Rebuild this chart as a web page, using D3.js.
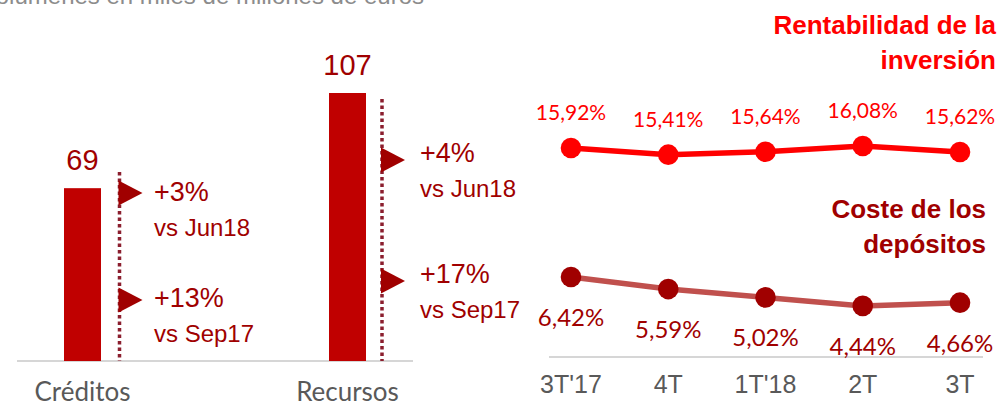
<!DOCTYPE html>
<html>
<head>
<meta charset="utf-8">
<script src="https://cdn.jsdelivr.net/npm/d3@7"></script>
<style>
  body { margin: 0; background: #fff; }
  svg { display: block; }
</style>
</head>
<body>
<svg id="chart" width="1001" height="408"></svg>
<script>
// data
var categories = ["Créditos", "Recursos"];
var volumes = [69, 107];
var vsJun = ["+3%", "+4%"];
var vsSep = ["+13%", "+17%"];
var vsJunLabel = "vs Jun18";
var vsSepLabel = "vs Sep17";

var quarters = ["3T'17", "4T", "1T'18", "2T", "3T"];
var rentabilidad = [15.92, 15.41, 15.64, 16.08, 15.62];
var coste = [6.42, 5.59, 5.02, 4.44, 4.66];

// layout for the growth notes next to each bar
var noteTop = [172, 99];
var noteArrowY = [[193, 300], [160, 281]];
var noteTextY = [[201, 307], [162, 283]];
var noteTextX = [154, 420];

var darkRed = "#a00000";
var barRed = "#c00000";
var svg = d3.select("#chart");

function fmt(v) { return v.toFixed(2).replace(".", ",") + "%"; }

// subtitle, cut at the top like the slide
svg.append("text")
    .attr("x", 424).attr("y", 4)
    .attr("text-anchor", "end")
    .style("font-family", "Liberation Sans, Arial, sans-serif")
    .style("font-size", "24px")
    .style("fill", "#8c8c8c")
    .text("Volúmenes en miles de millones de euros");

// ---- bar part ----
var baseY = 361;
var xBar = d3.scalePoint().domain(categories).range([82.5, 347.5]);
var yBar = d3.scaleLinear().domain([0, 107]).range([baseY, 93]);
var barW = 37;

svg.append("line")
    .attr("x1", 17).attr("x2", 413)
    .attr("y1", baseY).attr("y2", baseY)
    .style("stroke", "#c8c8c8").style("stroke-width", 1.5);

svg.selectAll(".bar")
    .data(categories)
    .enter()
    .append("rect")
      .attr("class", "bar")
      .attr("x", function(d) { return xBar(d) - barW / 2; })
      .attr("y", function(d, i) { return yBar(volumes[i]); })
      .attr("width", barW)
      .attr("height", function(d, i) { return baseY - yBar(volumes[i]); })
      .style("fill", barRed);

svg.selectAll(".vol")
    .data(categories)
    .enter()
    .append("text")
      .attr("x", function(d) { return xBar(d); })
      .attr("y", function(d, i) { return yBar(volumes[i]) - 18; })
      .attr("text-anchor", "middle")
      .style("font-family", "Liberation Sans, Arial, sans-serif")
      .style("font-size", "29px")
      .style("fill", darkRed)
      .text(function(d, i) { return volumes[i]; });

svg.selectAll(".cat")
    .data(categories)
    .enter()
    .append("text")
      .attr("x", function(d) { return xBar(d); })
      .attr("y", 401)
      .attr("text-anchor", "middle")
      .style("font-family", "Lato, sans-serif")
      .style("font-size", "26px")
      .style("fill", "#595959")
      .text(function(d) { return d; });

categories.forEach(function(c, i) {
    var lx = xBar(c) + (i == 0 ? 37 : 34.5);
    svg.append("line")
        .attr("x1", lx).attr("x2", lx)
        .attr("y1", noteTop[i]).attr("y2", baseY)
        .style("stroke", "#8b1e2e")
        .style("stroke-width", 3.5)
        .style("stroke-dasharray", "3.5,3");
    [0, 1].forEach(function(k) {
        var ty = noteArrowY[i][k];
        svg.append("path")
            .attr("d", "M" + (lx - 1) + "," + (ty - 12.5) + "L" + (lx + 23) + "," + ty + "L" + (lx - 1) + "," + (ty + 12.5) + "Z")
            .style("fill", darkRed);
        svg.append("text")
            .attr("x", noteTextX[i]).attr("y", noteTextY[i][k])
            .style("font-family", "Liberation Sans, Arial, sans-serif")
            .style("font-size", "27px")
            .style("fill", darkRed)
            .text(k == 0 ? vsJun[i] : vsSep[i]);
        svg.append("text")
            .attr("x", noteTextX[i]).attr("y", noteTextY[i][k] + 35)
            .style("font-family", "Liberation Sans, Arial, sans-serif")
            .style("font-size", "24px")
            .style("fill", darkRed)
            .text(k == 0 ? vsJunLabel : vsSepLabel);
    });
});

// ---- line part ----
var xLine = d3.scalePoint().domain(quarters).range([571, 960]);
var yRent = d3.scaleLinear().domain([15, 17]).range([160, 134]);
var yCoste = d3.scaleLinear().domain([4, 7]).range([312.3, 268.5]);

svg.append("line")
    .attr("x1", 549).attr("x2", 983)
    .attr("y1", 357).attr("y2", 357)
    .style("stroke", "#c8c8c8").style("stroke-width", 1.5);

svg.selectAll(".tick")
    .data(quarters)
    .enter()
    .append("text")
      .attr("x", function(d) { return xLine(d); })
      .attr("y", 393)
      .attr("text-anchor", "middle")
      .style("font-family", "Liberation Sans, Arial, sans-serif")
      .style("font-size", "25px")
      .style("fill", "#595959")
      .text(function(d) { return d; });

function drawSeries(values, y, lineColor, dotColor, labelColor, labelDy, labelSize) {
    var line = d3.line()
        .x(function(d, i) { return xLine(quarters[i]); })
        .y(function(d) { return y(d); });
    svg.append("path")
        .datum(values)
        .attr("d", line)
        .style("fill", "none")
        .style("stroke", lineColor)
        .style("stroke-width", 5.5);
    svg.selectAll(null)
        .data(values)
        .enter()
        .append("circle")
          .attr("cx", function(d, i) { return xLine(quarters[i]); })
          .attr("cy", function(d) { return y(d); })
          .attr("r", 10.3)
          .style("fill", dotColor);
    svg.selectAll(null)
        .data(values)
        .enter()
        .append("text")
          .attr("x", function(d, i) { return xLine(quarters[i]); })
          .attr("y", function(d) { return y(d) + labelDy; })
          .attr("text-anchor", "middle")
          .style("font-family", "Lato, sans-serif")
          .style("font-size", labelSize)
          .style("fill", labelColor)
          .text(fmt);
}

drawSeries(rentabilidad, yRent, "#ff0000", "#ff0000", "#ff0000", -28, "21px");
drawSeries(coste, yCoste, "#c0504d", darkRed, darkRed, 49, "24px");

function title(lines, x, y0, color) {
    lines.forEach(function(t, i) {
        svg.append("text")
            .attr("x", x).attr("y", y0 + i * 34.5)
            .attr("text-anchor", "end")
            .style("font-family", "Liberation Sans, Arial, sans-serif")
            .style("font-size", "26px")
            .style("font-weight", "bold")
            .style("fill", color)
            .text(t);
    });
}
title(["Rentabilidad de la", "inversión"], 996, 34, "#ff0000");
title(["Coste de los", "depósitos"], 986, 218, darkRed);
</script>
</body>
</html>
